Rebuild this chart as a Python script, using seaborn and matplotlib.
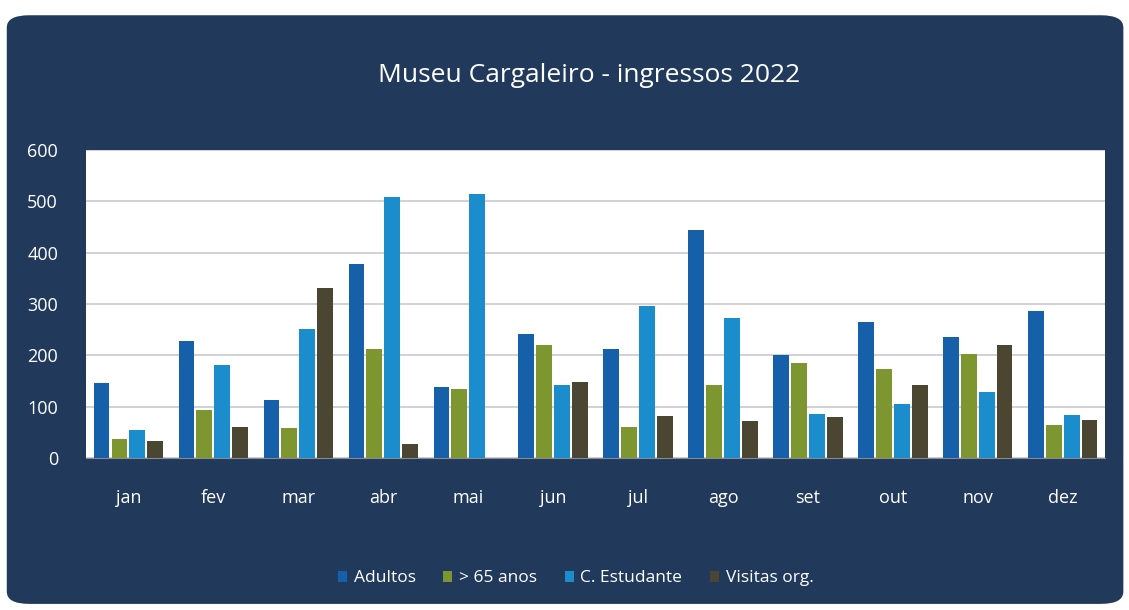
import pandas as pd
import seaborn as sns
import matplotlib.pyplot as plt
from matplotlib.patches import FancyBboxPatch

meses = ["jan", "fev", "mar", "abr", "mai", "jun", "jul", "ago", "set", "out", "nov", "dez"]
series = ["Adultos", "> 65 anos", "C. Estudante", "Visitas org."]
adultos = [147, 229, 114, 378, 139, 241, 212, 445, 200, 265, 235, 286]
mais_65 = [37, 94, 59, 212, 135, 221, 61, 143, 186, 173, 202, 65]
estudante = [55, 182, 251, 508, 514, 143, 296, 273, 86, 106, 129, 84]
visitas = [33, 61, 331, 27, 0, 149, 82, 73, 80, 143, 221, 75]
cores = ["#1560a8", "#7d9630", "#1b8ccc", "#4a4632"]

df = pd.DataFrame({
    "mes": meses * 4,
    "serie": sum([[s] * 12 for s in series], []),
    "valor": adultos + mais_65 + estudante + visitas,
})

sns.set_style("white")
plt.rcParams["font.family"] = ["Open Sans", "DejaVu Sans"]

fig = plt.figure(figsize=(11.29, 6.10), dpi=100, facecolor="white")
# painel azul escuro arredondado
fig.patches.append(FancyBboxPatch((0.006, 0.01), 0.989, 0.965,
                                  boxstyle="round,pad=0,rounding_size=0.02",
                                  transform=fig.transFigure, facecolor="#213a5c",
                                  edgecolor="none", zorder=-5))

ax = fig.add_axes([0.076, 0.249, 0.903, 0.505])
ax.set_zorder(5)
sns.barplot(data=df, x="mes", y="valor", hue="serie", palette=cores, saturation=1,
            width=0.84, gap=0.12, ax=ax, edgecolor="none", zorder=3)

ax.set_facecolor("white")
ax.set_ylim(0, 600)
ax.set_yticks(range(0, 601, 100))
ax.grid(axis="y", color="#c8c8d0", linewidth=1.2, zorder=0)
ax.set_axisbelow(True)
for s in ["top", "right", "left"]:
    ax.spines[s].set_visible(False)
ax.spines["bottom"].set_color("#8a8a90")
ax.set_xlabel("")
ax.set_ylabel("")
ax.tick_params(axis="y", colors="white", labelsize=13, pad=20, length=0)
ax.tick_params(axis="x", colors="white", labelsize=13, pad=22, length=0)

fig.text(0.522, 0.877, "Museu Cargaleiro - ingressos 2022", color="white",
         fontsize=19, ha="center", va="center", zorder=6)

ax.legend(loc="center", bbox_to_anchor=(0.51, 0.052), bbox_transform=fig.transFigure,
          ncol=4, frameon=False, labelcolor="white", fontsize=12.5,
          handlelength=0.5, handleheight=0.6, handletextpad=0.4, columnspacing=1.6)

fig.savefig("out.png", dpi=100, facecolor="white")
